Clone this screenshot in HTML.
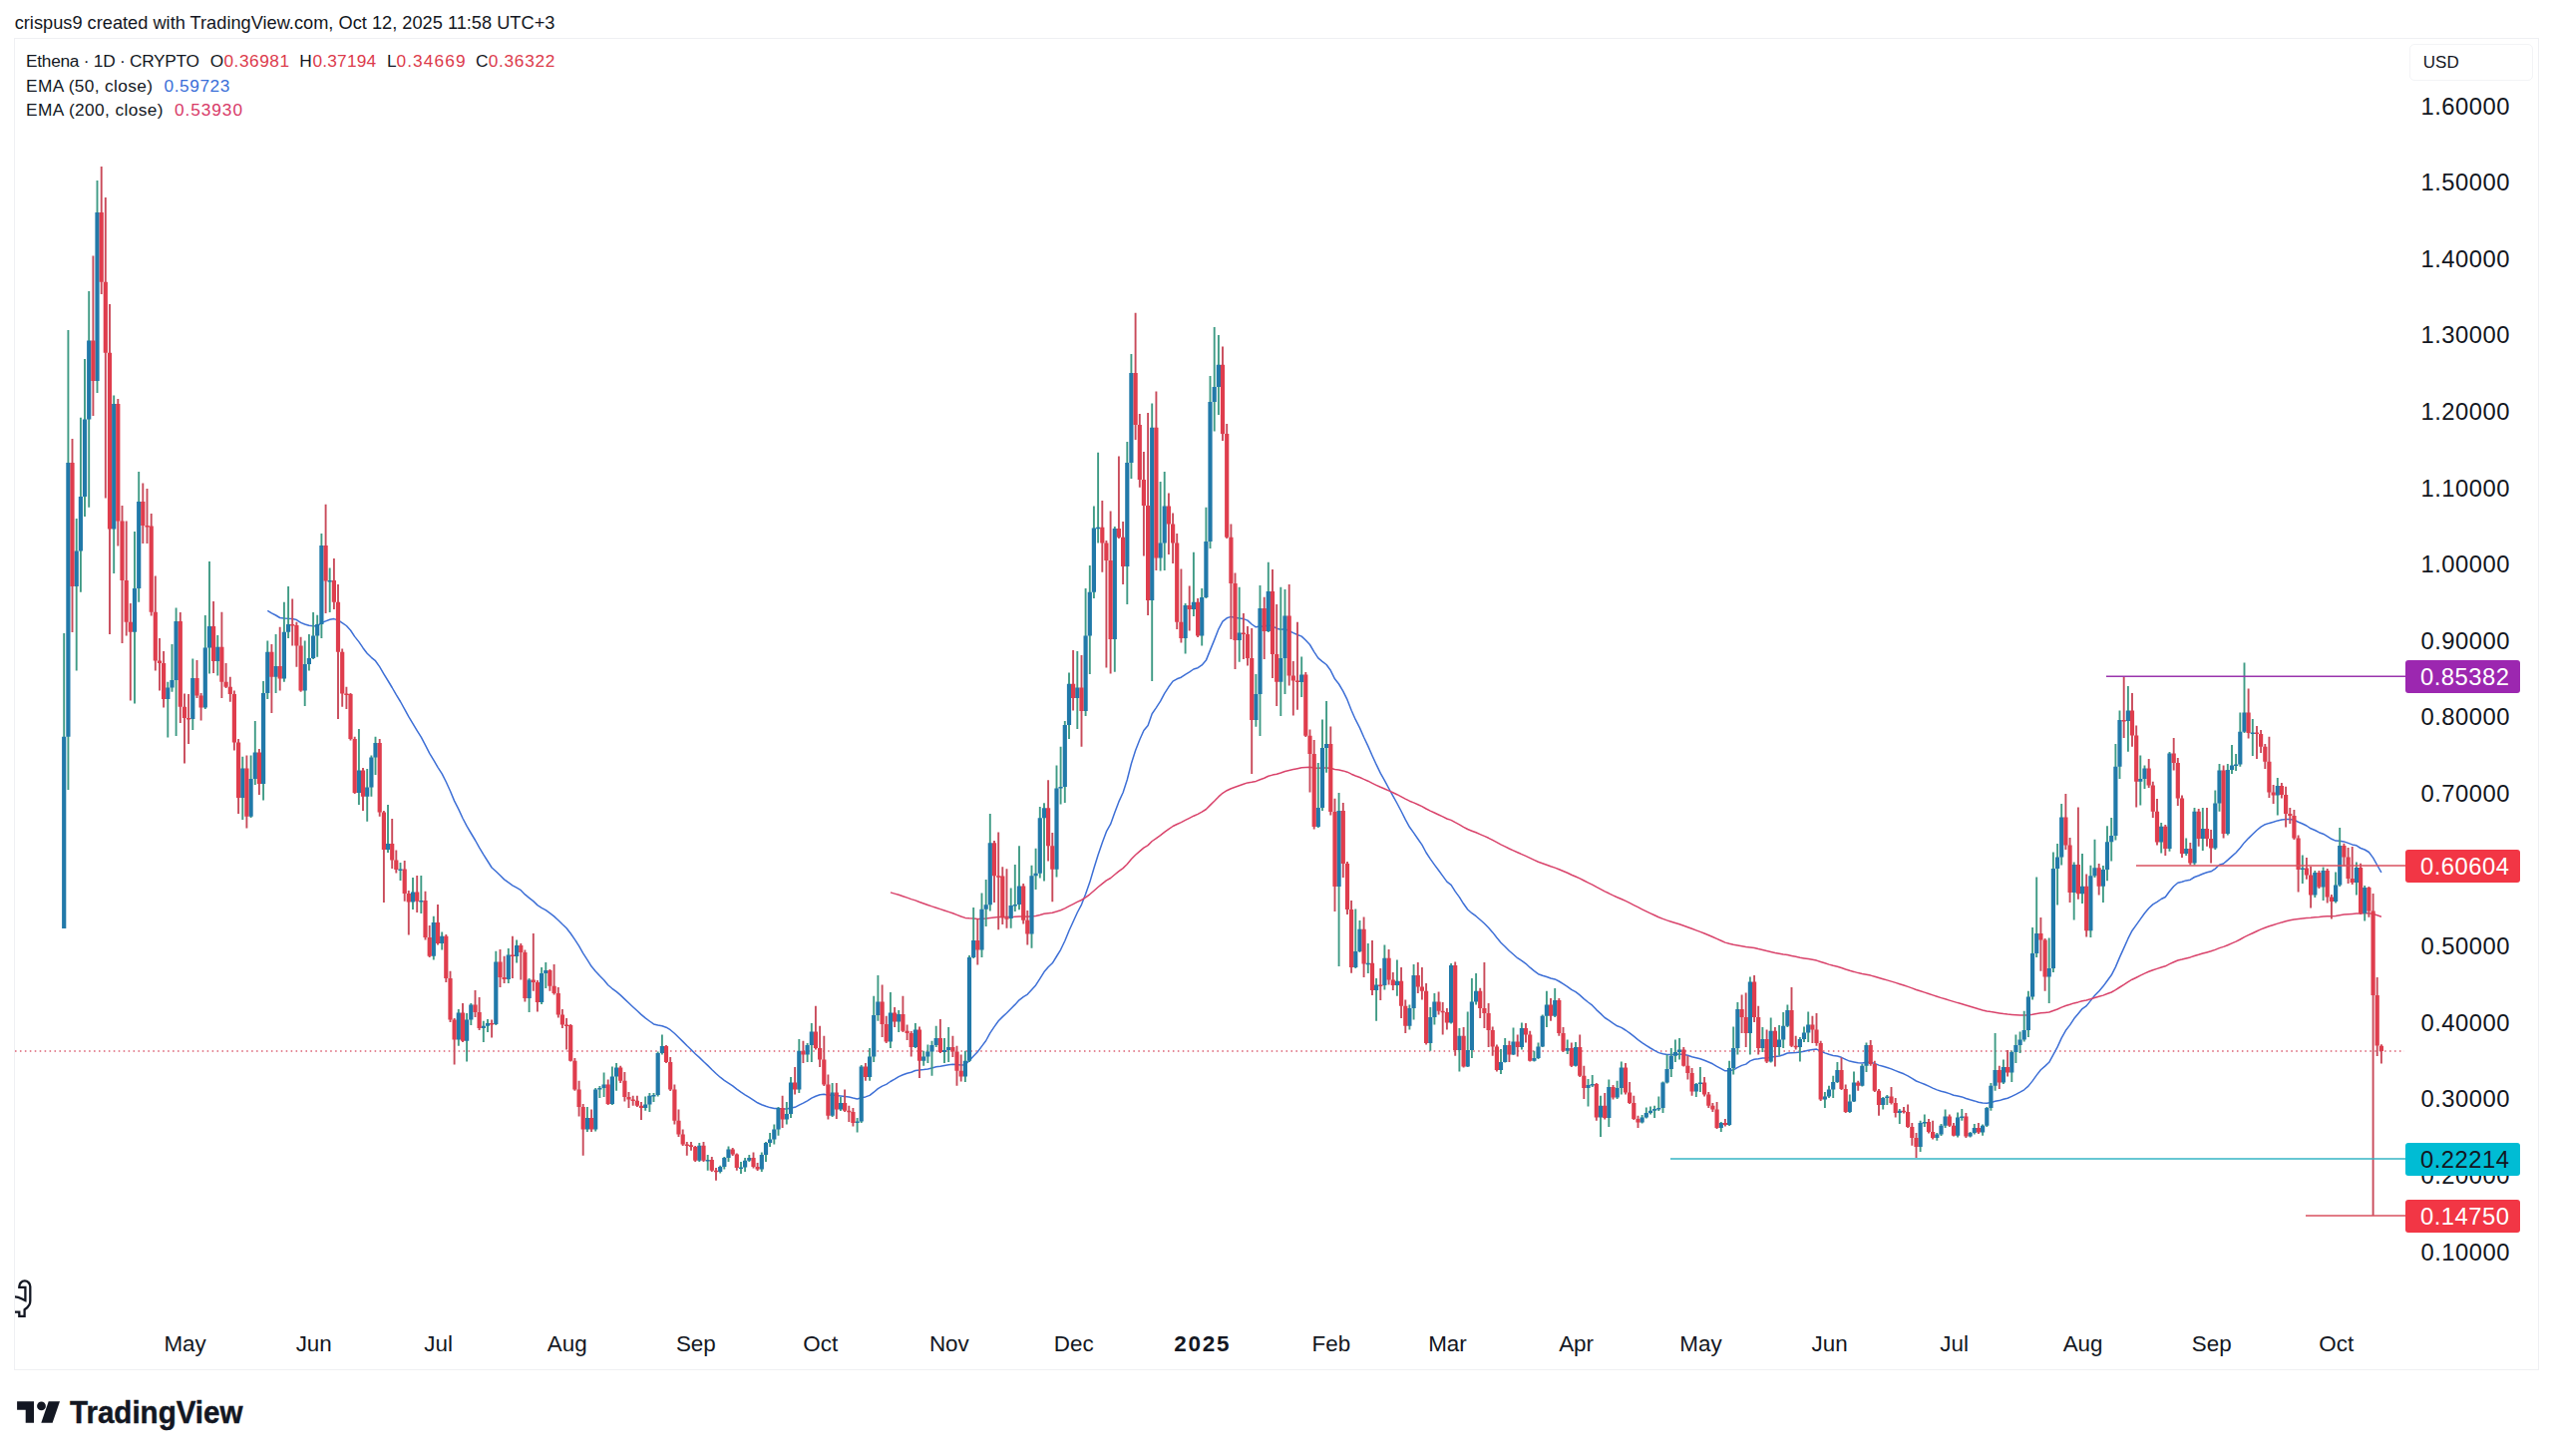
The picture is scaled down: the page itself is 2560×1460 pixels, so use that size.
<!DOCTYPE html>
<html><head><meta charset="utf-8"><title>chart</title>
<style>
html,body{margin:0;padding:0;background:#fff;}
body{width:2560px;height:1460px;position:relative;overflow:hidden;font-family:"Liberation Sans",sans-serif;color:#131722;}
.hdr{position:absolute;left:14.5px;top:11px;font-size:18.2px;line-height:22px;white-space:nowrap;color:#131722;}
.frame{position:absolute;left:14px;top:38px;width:2532px;height:1336px;border:1.5px solid #eff0f3;box-sizing:border-box;}
.lg{position:absolute;left:26px;font-size:17.3px;line-height:20px;white-space:nowrap;color:#131722;}
.lg .r{color:#dc3b4c} .lg .bl{color:#3a6fd8} .lg .pk{color:#d83a68}
.tl{position:absolute;top:1333.7px;width:120px;text-align:center;font-size:22.4px;line-height:28px;color:#131722;}
.tl.b{font-weight:bold;letter-spacing:1.8px}
.pl{position:absolute;left:2427.5px;width:100px;font-size:23.8px;line-height:28px;letter-spacing:0.5px;color:#131722;}
.tag{position:absolute;left:2412px;width:115px;height:33px;border-radius:3px;box-sizing:border-box;padding-left:15px;font-size:23.8px;line-height:33px;letter-spacing:0.5px;color:#fff;}
.usd{position:absolute;left:2415.8px;top:44px;width:124px;height:37px;border:1.5px solid #f3f4f6;border-radius:5px;box-sizing:border-box;font-size:17px;line-height:35px;padding-left:13px;color:#131722;}
svg{position:absolute;left:0;top:0}
</style></head><body>
<div class="frame"></div>
<div class="usd">USD</div>
<div class="pl" style="top:1241.5px">0.10000</div>
<div class="pl" style="top:1164.9px">0.20000</div>
<div class="pl" style="top:1088.3px">0.30000</div>
<div class="pl" style="top:1011.7px">0.40000</div>
<div class="pl" style="top:935.1px">0.50000</div>
<div class="pl" style="top:858.5px">0.60000</div>
<div class="pl" style="top:781.9px">0.70000</div>
<div class="pl" style="top:705.3px">0.80000</div>
<div class="pl" style="top:628.7px">0.90000</div>
<div class="pl" style="top:552.1px">1.00000</div>
<div class="pl" style="top:475.5px">1.10000</div>
<div class="pl" style="top:398.9px">1.20000</div>
<div class="pl" style="top:322.3px">1.30000</div>
<div class="pl" style="top:245.7px">1.40000</div>
<div class="pl" style="top:169.1px">1.50000</div>
<div class="pl" style="top:92.5px">1.60000</div>

<div class="tl" style="left:125.6px">May</div>
<div class="tl" style="left:254.7px">Jun</div>
<div class="tl" style="left:379.6px">Jul</div>
<div class="tl" style="left:508.7px">Aug</div>
<div class="tl" style="left:637.8px">Sep</div>
<div class="tl" style="left:762.7px">Oct</div>
<div class="tl" style="left:891.8px">Nov</div>
<div class="tl" style="left:1016.7px">Dec</div>
<div class="tl b" style="left:1145.8px">2025</div>
<div class="tl" style="left:1274.9px">Feb</div>
<div class="tl" style="left:1391.5px">Mar</div>
<div class="tl" style="left:1520.6px">Apr</div>
<div class="tl" style="left:1645.5px">May</div>
<div class="tl" style="left:1774.6px">Jun</div>
<div class="tl" style="left:1899.6px">Jul</div>
<div class="tl" style="left:2028.6px">Aug</div>
<div class="tl" style="left:2157.7px">Sep</div>
<div class="tl" style="left:2282.7px">Oct</div>

<svg width="2560" height="1460" viewBox="0 0 2560 1460">
<g font-family="Liberation Sans, sans-serif" fill="#131722">
<text x="14.7" y="28.9" font-size="18.2" textLength="541.7" lengthAdjust="spacing">crispus9 created with TradingView.com, Oct 12, 2025 11:58 UTC+3</text>
<g font-size="17.3">
<text x="26" y="67.3" textLength="174" lengthAdjust="spacing">Ethena &#183; 1D &#183; CRYPTO</text>
<text x="210.7" y="67.3">O</text><text x="224.5" y="67.3" fill="#dc3b4c" textLength="65.5" lengthAdjust="spacing">0.36981</text>
<text x="300.3" y="67.3">H</text><text x="313.5" y="67.3" fill="#dc3b4c" textLength="63.6" lengthAdjust="spacing">0.37194</text>
<text x="388" y="67.3">L</text><text x="397.5" y="67.3" fill="#dc3b4c" textLength="69" lengthAdjust="spacing">0.34669</text>
<text x="477" y="67.3">C</text><text x="489.7" y="67.3" fill="#dc3b4c" textLength="66.7" lengthAdjust="spacing">0.36322</text>
<text x="26" y="91.6" textLength="127" lengthAdjust="spacing">EMA (50, close)</text><text x="164.6" y="91.6" fill="#3a6fd8" textLength="65.8" lengthAdjust="spacing">0.59723</text>
<text x="26" y="116.1" textLength="137.6" lengthAdjust="spacing">EMA (200, close)</text><text x="175" y="116.1" fill="#d83a68" textLength="68" lengthAdjust="spacing">0.53930</text>
</g></g>
<line x1="15" y1="1053.9" x2="2411" y2="1053.9" stroke="#dc6174" stroke-width="1.45" stroke-dasharray="1.55 3.39"/>
<polyline points="268.3,612.3 272.4,614.9 276.6,617.0 280.7,619.5 284.9,620.0 289.1,620.3 293.2,620.5 297.4,621.6 301.6,624.4 305.7,626.0 309.9,627.3 314.1,627.7 318.2,627.7 322.4,624.5 326.6,622.9 330.7,621.3 334.9,620.6 339.0,621.9 343.2,624.7 347.4,627.5 351.5,632.0 355.7,638.4 359.9,643.6 364.0,649.7 368.2,655.2 372.4,659.3 376.5,662.7 380.7,668.6 384.9,675.8 389.0,682.5 393.2,689.5 397.3,696.7 401.5,703.5 405.7,711.1 409.8,718.7 414.0,725.6 418.2,732.6 422.3,739.2 426.5,747.1 430.7,755.4 434.8,762.1 439.0,769.3 443.2,775.9 447.3,784.0 451.5,793.3 455.6,803.1 459.8,811.4 464.0,820.5 468.1,828.4 472.3,835.5 476.5,842.5 480.6,849.9 484.8,856.9 489.0,863.5 493.1,870.0 497.3,873.7 501.5,877.8 505.6,881.9 509.8,884.9 513.9,887.8 518.1,890.2 522.3,892.7 526.4,896.9 530.6,900.3 534.8,903.6 538.9,907.6 543.1,910.3 547.3,912.7 551.4,915.7 555.6,918.9 559.8,922.7 563.9,926.8 568.1,930.8 572.2,936.0 576.4,942.2 580.6,948.7 584.7,955.9 588.9,962.4 593.1,969.1 597.2,973.9 601.4,978.5 605.6,982.8 609.7,987.7 613.9,991.3 618.1,994.4 622.2,997.9 626.4,1001.9 630.5,1005.8 634.7,1009.7 638.9,1013.5 643.0,1017.4 647.2,1020.9 651.4,1024.0 655.5,1026.9 659.7,1028.0 663.9,1028.8 668.0,1030.2 672.2,1032.7 676.4,1036.3 680.5,1040.2 684.7,1044.4 688.8,1048.5 693.0,1052.5 697.2,1056.8 701.3,1060.4 705.5,1064.5 709.7,1068.4 713.8,1072.5 718.0,1076.5 722.2,1080.2 726.3,1083.3 730.5,1086.1 734.7,1088.9 738.8,1092.1 743.0,1095.2 747.1,1097.8 751.3,1100.3 755.5,1103.1 759.6,1105.8 763.8,1107.8 768.0,1109.3 772.1,1110.6 776.3,1111.5 780.5,1111.5 784.6,1111.9 788.8,1112.1 793.0,1111.1 797.1,1110.3 801.3,1108.1 805.4,1106.1 809.6,1103.8 813.8,1101.1 817.9,1099.2 822.1,1097.7 826.3,1097.3 830.4,1098.2 834.6,1098.1 838.8,1098.6 842.9,1098.9 847.1,1099.5 851.3,1100.1 855.4,1101.1 859.6,1102.0 863.7,1100.8 867.9,1099.9 872.1,1098.4 876.2,1095.2 880.4,1091.6 884.6,1089.1 888.7,1087.4 892.9,1084.5 897.1,1082.2 901.2,1079.6 905.4,1077.8 909.6,1076.2 913.7,1075.2 917.9,1073.5 922.0,1073.1 926.2,1072.6 930.4,1071.9 934.5,1070.9 938.7,1069.8 942.9,1069.2 947.0,1068.5 951.2,1067.8 955.4,1067.3 959.5,1067.5 963.7,1068.0 967.9,1067.8 972.0,1063.6 976.2,1058.9 980.3,1054.7 984.5,1049.1 988.7,1043.5 992.8,1035.8 997.0,1029.6 1001.2,1023.7 1005.3,1019.6 1009.5,1015.8 1013.7,1011.5 1017.8,1007.4 1022.0,1002.8 1026.2,999.6 1030.3,997.1 1034.5,992.5 1038.6,987.9 1042.8,981.3 1047.0,974.6 1051.1,969.7 1055.3,965.8 1059.5,959.0 1063.6,952.3 1067.8,943.5 1072.0,933.3 1076.1,924.2 1080.3,915.0 1084.5,907.1 1088.6,896.5 1092.8,884.6 1096.9,870.7 1101.1,857.3 1105.3,845.0 1109.4,833.9 1113.6,826.4 1117.8,814.7 1121.9,803.9 1126.1,794.7 1130.3,781.7 1134.4,765.7 1138.6,752.4 1142.8,741.7 1146.9,732.5 1151.1,727.4 1155.2,715.7 1159.4,709.6 1163.6,703.1 1167.7,695.4 1171.9,688.8 1176.1,683.1 1180.2,680.8 1184.4,679.2 1188.6,676.3 1192.7,673.8 1196.9,671.0 1201.1,669.7 1205.2,666.9 1209.4,662.1 1213.5,651.9 1217.7,641.6 1221.9,630.8 1226.0,623.1 1230.2,619.8 1234.4,618.4 1238.5,619.3 1242.7,619.9 1246.9,620.6 1251.0,622.1 1255.2,626.0 1259.4,628.8 1263.5,628.0 1267.7,628.2 1271.8,626.8 1276.0,628.0 1280.2,630.2 1284.3,631.3 1288.5,630.8 1292.7,632.6 1296.8,634.6 1301.0,636.5 1305.2,638.1 1309.3,642.0 1313.5,646.5 1317.7,653.6 1321.8,659.8 1326.0,663.3 1330.1,666.5 1334.3,672.3 1338.5,680.8 1342.6,686.0 1346.8,693.1 1351.0,701.7 1355.1,712.2 1359.3,721.7 1363.5,729.9 1367.6,739.2 1371.8,748.1 1376.0,757.7 1380.1,766.7 1384.3,775.4 1388.4,782.6 1392.6,790.5 1396.8,798.2 1400.9,805.5 1405.1,813.5 1409.3,821.9 1413.4,829.3 1417.6,835.1 1421.8,841.2 1425.9,847.2 1430.1,855.0 1434.3,861.4 1438.4,867.1 1442.6,872.8 1446.7,878.4 1450.9,884.1 1455.1,887.4 1459.2,893.9 1463.4,899.6 1467.6,906.3 1471.7,912.0 1475.9,915.7 1480.1,918.7 1484.2,922.3 1488.4,926.0 1492.6,930.2 1496.7,934.9 1500.9,940.3 1505.0,945.2 1509.2,949.2 1513.4,953.5 1517.5,957.0 1521.7,960.7 1525.9,963.4 1530.0,966.3 1534.2,970.2 1538.4,973.7 1542.5,976.7 1546.7,978.3 1550.9,979.5 1555.0,981.0 1559.2,981.9 1563.3,984.0 1567.5,986.7 1571.7,989.3 1575.8,992.4 1580.0,994.6 1584.2,997.9 1588.3,1001.6 1592.5,1005.0 1596.7,1008.2 1600.8,1012.6 1605.0,1016.4 1609.2,1020.5 1613.3,1023.2 1617.5,1026.2 1621.6,1028.8 1625.8,1030.4 1630.0,1033.0 1634.1,1035.8 1638.3,1039.2 1642.5,1042.6 1646.6,1045.6 1650.8,1048.4 1655.0,1051.0 1659.1,1053.4 1663.3,1055.6 1667.5,1056.8 1671.6,1057.4 1675.8,1057.4 1679.9,1057.3 1684.1,1057.1 1688.3,1057.6 1692.4,1058.3 1696.6,1059.7 1700.8,1060.8 1704.9,1061.8 1709.1,1063.2 1713.3,1065.0 1717.4,1066.8 1721.6,1069.3 1725.8,1071.6 1729.9,1073.8 1734.1,1073.7 1738.2,1072.8 1742.4,1070.4 1746.6,1068.4 1750.7,1067.1 1754.9,1063.9 1759.1,1062.2 1763.2,1061.7 1767.4,1061.0 1771.6,1061.1 1775.7,1060.0 1779.9,1059.6 1784.1,1059.0 1788.2,1057.8 1792.4,1056.0 1796.5,1055.7 1800.7,1055.5 1804.9,1055.0 1809.0,1054.2 1813.2,1053.2 1817.4,1052.4 1821.5,1052.1 1825.7,1054.1 1829.9,1055.9 1834.0,1057.3 1838.2,1058.4 1842.4,1059.0 1846.5,1060.3 1850.7,1062.4 1854.8,1064.1 1859.0,1064.9 1863.2,1065.8 1867.3,1065.9 1871.5,1065.2 1875.7,1065.3 1879.8,1066.4 1884.0,1068.1 1888.2,1069.3 1892.3,1070.5 1896.5,1071.9 1900.7,1073.6 1904.8,1075.2 1909.0,1076.8 1913.1,1078.9 1917.3,1081.3 1921.5,1084.0 1925.6,1085.6 1929.8,1087.2 1934.0,1089.1 1938.1,1091.1 1942.3,1092.9 1946.5,1094.3 1950.6,1095.3 1954.8,1096.6 1959.0,1098.3 1963.1,1099.1 1967.3,1099.9 1971.4,1101.5 1975.6,1102.8 1979.8,1103.9 1983.9,1105.2 1988.1,1106.1 1992.3,1106.3 1996.4,1105.6 2000.6,1104.3 2004.8,1103.6 2008.9,1102.3 2013.1,1101.2 2017.3,1099.4 2021.4,1097.4 2025.6,1095.2 2029.7,1092.8 2033.9,1089.1 2038.1,1083.9 2042.2,1078.1 2046.4,1072.8 2050.6,1069.1 2054.7,1065.3 2058.9,1057.7 2063.1,1049.9 2067.2,1040.9 2071.4,1033.3 2075.6,1027.9 2079.7,1021.6 2083.9,1016.6 2088.0,1011.6 2092.2,1008.6 2096.4,1003.4 2100.5,998.2 2104.7,993.9 2108.9,989.1 2113.0,983.5 2117.2,977.8 2121.4,969.6 2125.5,959.9 2129.7,950.6 2133.9,941.2 2138.0,933.2 2142.2,927.4 2146.3,921.6 2150.5,915.7 2154.7,910.7 2158.8,906.9 2163.0,904.4 2167.2,901.5 2171.3,899.5 2175.5,893.8 2179.7,888.8 2183.8,885.3 2188.0,884.2 2192.2,882.9 2196.3,882.2 2200.5,879.5 2204.7,878.0 2208.8,876.2 2213.0,874.8 2217.1,873.8 2221.3,871.1 2225.5,867.3 2229.6,866.0 2233.8,862.4 2238.0,858.6 2242.1,855.0 2246.3,850.3 2250.5,844.9 2254.6,840.6 2258.8,836.5 2263.0,832.5 2267.1,829.2 2271.3,826.7 2275.4,825.4 2279.6,824.3 2283.8,822.9 2287.9,821.9 2292.1,821.6 2296.3,821.5 2300.4,822.2 2304.6,824.2 2308.8,826.0 2312.9,828.0 2317.1,830.8 2321.3,832.5 2325.4,834.7 2329.6,836.2 2333.7,838.7 2337.9,841.3 2342.1,843.1 2346.2,843.3 2350.4,843.9 2354.6,845.4 2358.7,846.9 2362.9,847.8 2367.1,850.5 2371.2,852.0 2375.4,854.5 2379.6,860.1 2383.7,867.5 2387.9,874.8" stroke="#3d6fd6" stroke-width="1.5" fill="none" stroke-linejoin="round"/>
<polyline points="892.9,894.9 897.1,896.1 901.2,897.3 905.4,898.7 909.6,900.1 913.7,901.6 917.9,902.9 922.0,904.5 926.2,906.0 930.4,907.5 934.5,908.9 938.7,910.2 942.9,911.6 947.0,913.0 951.2,914.4 955.4,915.8 959.5,917.4 963.7,919.0 967.9,920.4 972.0,920.8 976.2,921.0 980.3,921.4 984.5,921.3 988.7,921.1 992.8,920.4 997.0,919.9 1001.2,919.5 1005.3,919.5 1009.5,919.6 1013.7,919.4 1017.8,919.3 1022.0,919.0 1026.2,919.0 1030.3,919.2 1034.5,918.8 1038.6,918.4 1042.8,917.4 1047.0,916.3 1051.1,915.7 1055.3,915.2 1059.5,914.0 1063.6,912.7 1067.8,910.9 1072.0,908.7 1076.1,906.6 1080.3,904.4 1084.5,902.5 1088.6,899.9 1092.8,896.8 1096.9,893.2 1101.1,889.5 1105.3,886.1 1109.4,882.9 1113.6,880.5 1117.8,877.0 1121.9,873.6 1126.1,870.6 1130.3,866.5 1134.4,861.6 1138.6,857.3 1142.8,853.6 1146.9,850.1 1151.1,847.6 1155.2,843.5 1159.4,840.7 1163.6,837.7 1167.7,834.4 1171.9,831.3 1176.1,828.5 1180.2,826.5 1184.4,824.6 1188.6,822.4 1192.7,820.3 1196.9,818.2 1201.1,816.4 1205.2,814.2 1209.4,811.5 1213.5,807.4 1217.7,803.3 1221.9,798.9 1226.0,795.3 1230.2,792.7 1234.4,790.7 1238.5,789.2 1242.7,787.7 1246.9,786.2 1251.0,784.9 1255.2,784.3 1259.4,783.4 1263.5,781.7 1267.7,780.2 1271.8,778.3 1276.0,777.1 1280.2,776.2 1284.3,775.0 1288.5,773.5 1292.7,772.5 1296.8,771.6 1301.0,770.7 1305.2,769.8 1309.3,769.5 1313.5,769.3 1317.7,769.9 1321.8,770.3 1326.0,770.1 1330.1,769.9 1334.3,770.3 1338.5,771.5 1342.6,771.9 1346.8,772.9 1351.0,774.2 1355.1,776.2 1359.3,778.0 1363.5,779.5 1367.6,781.4 1371.8,783.2 1376.0,785.3 1380.1,787.3 1384.3,789.3 1388.4,791.0 1392.6,792.9 1396.8,794.8 1400.9,796.7 1405.1,798.8 1409.3,801.1 1413.4,803.2 1417.6,804.9 1421.8,806.8 1425.9,808.6 1430.1,811.0 1434.3,813.1 1438.4,815.0 1442.6,817.0 1446.7,818.9 1450.9,821.0 1455.1,822.4 1459.2,824.7 1463.4,826.9 1467.6,829.3 1471.7,831.5 1475.9,833.2 1480.1,834.8 1484.2,836.6 1488.4,838.4 1492.6,840.3 1496.7,842.4 1500.9,844.7 1505.0,846.9 1509.2,848.9 1513.4,851.0 1517.5,852.9 1521.7,854.8 1525.9,856.6 1530.0,858.4 1534.2,860.4 1538.4,862.4 1542.5,864.3 1546.7,865.8 1550.9,867.2 1555.0,868.7 1559.2,870.1 1563.3,871.7 1567.5,873.5 1571.7,875.3 1575.8,877.2 1580.0,879.0 1584.2,880.9 1588.3,883.0 1592.5,885.1 1596.7,887.1 1600.8,889.4 1605.0,891.6 1609.2,893.9 1613.3,895.8 1617.5,897.9 1621.6,899.8 1625.8,901.5 1630.0,903.4 1634.1,905.4 1638.3,907.6 1642.5,909.7 1646.6,911.8 1650.8,913.9 1655.0,915.9 1659.1,917.8 1663.3,919.7 1667.5,921.4 1671.6,922.9 1675.8,924.2 1679.9,925.5 1684.1,926.8 1688.3,928.2 1692.4,929.7 1696.6,931.3 1700.8,932.9 1704.9,934.4 1709.1,936.0 1713.3,937.7 1717.4,939.5 1721.6,941.4 1725.8,943.2 1729.9,945.1 1734.1,946.3 1738.2,947.3 1742.4,948.0 1746.6,948.7 1750.7,949.6 1754.9,949.9 1759.1,950.6 1763.2,951.6 1767.4,952.5 1771.6,953.6 1775.7,954.4 1779.9,955.4 1784.1,956.2 1788.2,957.0 1792.4,957.5 1796.5,958.4 1800.7,959.3 1804.9,960.2 1809.0,960.9 1813.2,961.6 1817.4,962.3 1821.5,963.1 1825.7,964.5 1829.9,965.8 1834.0,967.1 1838.2,968.3 1842.4,969.3 1846.5,970.5 1850.7,972.0 1854.8,973.3 1859.0,974.4 1863.2,975.6 1867.3,976.5 1871.5,977.2 1875.7,978.1 1879.8,979.2 1884.0,980.5 1888.2,981.7 1892.3,982.9 1896.5,984.1 1900.7,985.4 1904.8,986.7 1909.0,988.0 1913.1,989.4 1917.3,990.9 1921.5,992.5 1925.6,993.8 1929.8,995.1 1934.0,996.5 1938.1,997.9 1942.3,999.3 1946.5,1000.6 1950.6,1001.8 1954.8,1003.1 1959.0,1004.4 1963.1,1005.6 1967.3,1006.7 1971.4,1008.0 1975.6,1009.3 1979.8,1010.5 1983.9,1011.8 1988.1,1012.9 1992.3,1013.9 1996.4,1014.6 2000.6,1015.2 2004.8,1015.9 2008.9,1016.5 2013.1,1017.0 2017.3,1017.4 2021.4,1017.7 2025.6,1018.0 2029.7,1018.1 2033.9,1017.9 2038.1,1017.3 2042.2,1016.5 2046.4,1015.8 2050.6,1015.4 2054.7,1015.0 2058.9,1013.5 2063.1,1012.0 2067.2,1010.1 2071.4,1008.5 2075.6,1007.3 2079.7,1005.9 2083.9,1004.9 2088.0,1003.7 2092.2,1003.0 2096.4,1001.8 2100.5,1000.5 2104.7,999.3 2108.9,998.1 2113.0,996.5 2117.2,995.0 2121.4,992.7 2125.5,990.0 2129.7,987.4 2133.9,984.6 2138.0,982.2 2142.2,980.2 2146.3,978.2 2150.5,976.1 2154.7,974.3 2158.8,972.7 2163.0,971.4 2167.2,970.0 2171.3,968.8 2175.5,966.7 2179.7,964.7 2183.8,963.0 2188.0,962.0 2192.2,960.9 2196.3,959.9 2200.5,958.5 2204.7,957.3 2208.8,956.0 2213.0,954.9 2217.1,953.8 2221.3,952.4 2225.5,950.6 2229.6,949.4 2233.8,947.7 2238.0,945.9 2242.1,944.1 2246.3,942.0 2250.5,939.7 2254.6,937.7 2258.8,935.7 2263.0,933.7 2267.1,931.9 2271.3,930.2 2275.4,928.8 2279.6,927.5 2283.8,926.1 2287.9,924.9 2292.1,923.8 2296.3,922.7 2300.4,921.9 2304.6,921.4 2308.8,920.9 2312.9,920.5 2317.1,920.2 2321.3,919.8 2325.4,919.5 2329.6,919.0 2333.7,918.8 2337.9,918.7 2342.1,918.4 2346.2,917.7 2350.4,917.1 2354.6,916.7 2358.7,916.4 2362.9,916.0 2367.1,916.0 2371.2,915.7 2375.4,915.7 2379.6,916.5 2383.7,917.8 2387.9,919.2" stroke="#d9436b" stroke-width="1.5" fill="none" stroke-linejoin="round"/>

<path d="M64.2 635.0V931.0M68.4 331.0V792.0M76.7 520.0V672.5M80.9 418.7V593.7M85.0 360.0V518.0M89.2 292.0V508.7M97.5 181.0V394.0M114.2 396.4V575.0M135.0 533.0V705.5M139.2 473.0V603.7M168.3 683.7V739.5M172.5 646.0V693.7M176.6 609.5V738.0M193.3 660.5V732.0M205.8 617.0V711.0M210.0 563.0V675.5M218.3 637.0V677.5M243.3 758.7V822.0M251.6 757.5V820.0M255.8 723.0V787.0M264.1 683.0V802.5M268.3 642.5V701.0M276.6 636.0V695.0M284.9 603.7V683.7M289.1 588.0V640.0M305.7 642.5V708.0M309.9 636.0V672.5M314.1 614.0V661.0M318.2 616.7V658.7M322.4 535.0V640.0M330.7 569.5V614.0M359.9 731.0V807.0M368.2 771.0V823.7M372.4 757.5V798.7M376.5 738.7V777.0M389.0 807.0V855.0M401.5 865.0V883.0M414.0 880.0V912.0M422.3 878.0V916.0M434.8 918.7V962.5M443.2 934.5V952.5M459.8 1012.0V1048.7M468.1 1016.0V1064.5M472.3 1006.0V1028.0M484.8 1023.7V1045.0M489.0 1022.0V1035.0M497.3 953.7V1028.0M509.8 951.0V986.0M518.1 942.5V965.5M530.6 981.0V1015.0M543.1 970.0V1007.0M547.3 965.0V991.0M588.9 1110.0V1135.0M597.2 1091.0V1134.5M601.4 1089.0V1101.0M605.6 1075.5V1100.0M613.9 1069.5V1108.0M618.1 1066.0V1093.7M647.2 1099.5V1113.7M651.4 1096.0V1115.0M655.5 1096.0V1105.0M659.7 1054.5V1099.5M663.9 1037.5V1057.5M701.3 1146.0V1165.0M709.7 1158.0V1173.7M722.2 1168.7V1176.5M726.3 1160.0V1172.5M730.5 1149.5V1165.0M743.0 1165.0V1177.0M747.1 1161.0V1175.0M751.3 1158.0V1165.0M763.8 1155.5V1175.0M768.0 1145.0V1165.0M772.1 1136.0V1150.0M776.3 1127.5V1147.5M780.5 1110.0V1138.7M788.8 1105.0V1127.5M793.0 1080.0V1121.0M801.3 1042.0V1096.0M809.6 1046.0V1065.0M813.8 1026.0V1065.0M834.6 1086.0V1120.0M842.9 1100.0V1114.0M859.6 1121.0V1135.5M863.7 1068.0V1126.0M872.1 1051.0V1083.7M876.2 998.7V1065.0M880.4 978.0V1023.7M892.9 995.0V1051.0M901.2 1013.0V1035.0M917.9 1026.0V1051.0M926.2 1053.7V1068.7M930.4 1047.5V1066.0M934.5 1043.7V1078.7M938.7 1028.7V1050.0M947.0 1041.0V1066.0M951.2 1030.0V1065.0M967.9 1053.7V1085.0M972.0 958.0V1065.0M976.2 910.0V961.0M984.5 895.6V960.0M988.7 882.0V929.0M992.8 816.0V913.5M1013.7 890.6V930.8M1017.8 867.0V914.0M1022.0 848.2V912.3M1034.5 867.8V950.8M1038.6 850.7V891.9M1042.8 809.0V880.4M1047.0 805.3V883.6M1059.5 767.5V879.5M1063.6 748.7V806.6M1067.8 723.0V805.0M1072.0 674.5V741.0M1080.3 653.0V731.0M1088.6 590.0V718.0M1092.8 567.0V676.0M1096.9 507.5V600.0M1101.1 453.7V544.5M1117.8 528.0V673.7M1130.3 443.0V606.0M1134.4 355.0V480.0M1155.2 404.5V683.0M1163.6 483.0V572.5M1167.7 473.0V572.0M1188.6 605.0V655.5M1196.9 553.7V618.0M1205.2 590.0V647.5M1209.4 508.7V600.0M1213.5 377.0V550.0M1217.7 328.0V432.5M1221.9 336.0V416.0M1242.7 588.7V663.7M1259.4 676.0V728.7M1263.5 587.0V738.0M1271.8 563.7V634.0M1284.3 588.7V718.0M1288.5 591.0V696.0M1305.2 658.5V699.0M1321.8 765.0V830.0M1326.0 721.6V813.0M1330.1 703.0V774.8M1342.6 795.0V969.0M1359.3 911.5V971.0M1363.5 923.0V955.0M1371.8 946.0V976.0M1380.1 981.0V1023.7M1388.4 947.5V992.5M1400.9 962.5V998.7M1413.4 1007.5V1032.5M1417.6 967.0V1022.5M1434.3 1010.0V1053.7M1438.4 996.0V1027.5M1455.1 966.0V1026.5M1463.4 1031.0V1074.5M1471.7 1014.5V1070.0M1475.9 981.0V1061.0M1480.1 976.0V1007.5M1505.0 1052.0V1077.0M1509.2 1041.0V1065.5M1517.5 1030.5V1058.0M1525.9 1025.5V1052.5M1538.4 1053.7V1064.5M1542.5 1045.5V1062.0M1546.7 1017.5V1050.0M1550.9 993.7V1030.0M1559.2 991.0V1020.0M1571.7 1042.5V1057.0M1580.0 1045.0V1069.5M1592.5 1082.0V1109.5M1596.7 1078.0V1090.0M1605.0 1098.7V1140.0M1613.3 1082.5V1130.0M1621.6 1083.7V1102.0M1625.8 1064.5V1097.5M1646.6 1118.0V1126.5M1650.8 1110.5V1121.5M1655.0 1109.5V1117.5M1659.1 1108.7V1121.0M1663.3 1099.5V1114.0M1667.5 1084.5V1116.0M1671.6 1057.5V1086.5M1675.8 1051.0V1080.0M1679.9 1042.5V1065.0M1684.1 1041.0V1062.5M1700.8 1086.0V1100.0M1704.9 1070.0V1095.0M1725.8 1125.0V1135.0M1734.1 1063.7V1129.0M1738.2 1029.5V1077.5M1742.4 1005.0V1057.5M1754.9 979.5V1057.5M1767.4 1030.0V1055.0M1775.7 1020.5V1065.5M1784.1 1028.0V1058.7M1788.2 1015.0V1051.0M1792.4 1007.5V1030.0M1804.9 1040.0V1064.5M1809.0 1029.5V1045.0M1813.2 1014.5V1045.0M1829.9 1095.0V1111.0M1834.0 1088.7V1101.0M1838.2 1078.7V1101.0M1842.4 1065.0V1086.0M1854.8 1097.5V1116.0M1859.0 1074.5V1105.0M1867.3 1067.0V1089.5M1871.5 1045.5V1075.0M1888.2 1100.0V1112.5M1892.3 1098.0V1108.0M1904.8 1112.0V1127.0M1925.6 1123.7V1155.0M1929.8 1117.5V1130.0M1942.3 1136.0V1143.7M1946.5 1127.0V1139.0M1950.6 1112.5V1131.0M1963.1 1115.5V1140.5M1967.3 1112.0V1123.7M1975.6 1135.0V1140.5M1979.8 1127.0V1137.5M1988.1 1127.5V1138.7M1992.3 1110.0V1130.0M1996.4 1086.0V1113.7M2000.6 1036.0V1093.7M2008.9 1062.5V1087.0M2017.3 1053.5V1085.0M2021.4 1037.5V1066.0M2025.6 1034.5V1056.0M2029.7 1013.7V1044.5M2033.9 993.7V1040.0M2038.1 930.0V1002.5M2042.2 879.5V960.0M2054.7 940.5V1006.0M2058.9 854.5V975.0M2063.1 846.0V907.5M2067.2 806.0V867.5M2079.7 864.5V922.5M2088.0 856.0V906.0M2096.4 867.8V940.0M2100.5 841.8V880.0M2108.9 868.0V905.0M2113.0 828.2V883.2M2117.2 820.0V863.4M2121.4 746.0V842.5M2125.5 712.5V781.0M2133.9 688.0V753.7M2146.3 757.5V807.5M2150.5 767.5V791.0M2167.2 825.0V855.5M2175.5 754.0V853.7M2192.2 840.5V858.0M2200.5 810.0V867.5M2208.8 810.0V853.0M2221.3 792.5V852.0M2225.5 766.0V813.7M2233.8 766.0V837.5M2238.0 747.0V776.0M2242.1 756.0V773.0M2246.3 714.5V768.7M2250.5 664.5V735.0M2258.8 721.0V758.0M2283.8 780.0V817.5M2308.8 857.5V886.0M2321.3 873.0V900.0M2329.6 869.5V903.0M2342.1 874.5V905.5M2346.2 830.0V889.0M2362.9 864.6V897.6M2371.2 888.0V923.5" stroke="#3f9b85" stroke-width="1.9" fill="none"/>
<path d="M72.5 440.0V634.0M93.4 256.6V417.0M101.7 167.0V295.0M105.8 198.0V499.5M110.0 305.0V636.0M118.3 400.0V547.5M122.5 507.0V645.0M126.7 522.5V637.5M130.8 605.0V702.5M143.3 484.5V545.0M147.5 490.0V545.0M151.7 515.0V617.5M155.8 577.5V672.5M160.0 640.0V692.5M164.1 653.0V709.5M180.8 614.0V725.0M185.0 695.5V765.5M189.1 696.0V746.0M197.5 662.0V700.0M201.6 695.0V722.5M214.1 603.0V675.0M222.4 613.7V700.0M226.6 665.0V690.0M230.8 678.7V703.7M234.9 692.5V752.5M239.1 741.0V816.0M247.4 757.5V830.5M259.9 751.0V797.0M272.4 646.0V715.0M280.7 628.7V692.5M293.2 600.5V647.5M297.4 623.7V668.7M301.6 638.7V693.7M326.6 505.7V615.0M334.9 560.0V611.0M339.0 586.0V721.0M343.2 650.5V708.7M347.4 688.7V711.0M351.5 695.0V742.5M355.7 738.7V796.0M364.0 770.0V813.0M380.7 741.0V818.7M384.9 813.0V905.0M393.2 821.0V871.0M397.3 852.5V875.5M405.7 863.0V903.7M409.8 893.0V937.5M418.2 878.0V915.0M426.5 893.7V942.5M430.7 928.0V960.0M439.0 907.0V947.5M447.3 937.0V985.0M451.5 973.7V1025.0M455.6 1021.0V1067.5M464.0 1006.0V1045.0M476.5 993.0V1020.0M480.6 1000.0V1033.0M493.1 1022.5V1040.5M501.5 952.0V990.0M505.6 958.7V986.0M513.9 938.7V981.0M522.3 946.0V982.5M526.4 952.5V1004.5M534.8 936.0V993.7M538.9 983.0V1014.5M551.4 972.0V993.7M555.6 967.0V997.5M559.8 990.0V1020.5M563.9 1012.0V1031.0M568.1 1021.0V1052.5M572.2 1027.0V1064.5M576.4 1061.0V1093.7M580.6 1083.7V1119.5M584.7 1107.0V1158.7M593.1 1112.5V1135.0M609.7 1082.5V1108.0M622.2 1068.7V1086.0M626.4 1075.0V1104.5M630.5 1095.0V1111.0M634.7 1098.7V1108.7M638.9 1098.7V1110.0M643.0 1105.0V1123.0M668.0 1048.0V1066.0M672.2 1060.0V1094.0M676.4 1087.5V1127.5M680.5 1112.5V1140.0M684.7 1132.5V1149.0M688.8 1145.0V1158.7M693.0 1145.0V1153.7M697.2 1149.0V1165.0M705.5 1145.0V1165.0M713.8 1160.0V1175.0M718.0 1171.0V1183.7M734.7 1151.0V1159.0M738.8 1156.5V1173.7M755.5 1155.5V1171.5M759.6 1166.0V1174.0M784.6 1098.7V1131.0M797.1 1070.0V1097.5M805.4 1043.7V1066.0M817.9 1008.7V1052.5M822.1 1028.7V1070.0M826.3 1038.7V1089.0M830.4 1077.5V1122.5M838.8 1086.0V1122.0M847.1 1092.5V1115.0M851.3 1108.7V1125.0M855.4 1111.0V1129.5M867.9 1066.0V1083.7M884.6 987.5V1040.0M888.7 1018.7V1046.0M897.1 1010.0V1030.0M905.4 998.7V1035.0M909.6 1027.5V1043.0M913.7 1034.0V1059.5M922.0 1029.5V1081.0M942.9 1022.0V1056.0M955.4 1038.7V1060.0M959.5 1048.7V1088.7M963.7 1057.5V1084.5M980.3 921.0V967.5M997.0 843.0V904.9M1001.2 834.4V932.3M1005.3 869.3V927.0M1009.5 871.2V930.8M1026.2 886.0V926.5M1030.3 913.0V947.5M1051.1 782.2V863.4M1055.3 835.0V904.2M1076.1 652.0V712.5M1084.5 657.0V748.7M1105.3 502.0V573.7M1109.4 542.0V669.5M1113.6 512.5V675.5M1121.9 457.5V540.0M1126.1 523.0V586.0M1138.6 313.7V441.0M1142.8 415.0V488.7M1146.9 453.0V557.5M1151.1 414.0V617.0M1159.4 392.5V572.0M1171.9 494.5V556.0M1176.1 514.5V565.0M1180.2 535.0V631.0M1184.4 570.5V644.5M1192.7 587.5V632.5M1201.1 600.0V639.0M1226.0 347.5V442.0M1230.2 425.0V540.0M1234.4 525.5V641.0M1238.5 574.5V671.0M1246.9 615.0V661.0M1251.0 628.0V667.5M1255.2 630.0V776.0M1267.7 598.7V661.0M1276.0 571.0V680.0M1280.2 606.0V708.0M1292.7 586.0V687.5M1296.8 663.0V717.5M1301.0 623.7V711.7M1309.3 674.0V739.0M1313.5 731.5V794.5M1317.7 742.0V831.6M1334.3 728.5V817.5M1338.5 800.7V914.0M1346.8 805.0V880.0M1351.0 864.0V917.0M1355.1 903.0V975.8M1367.6 919.4V980.0M1376.0 943.0V998.0M1384.3 971.0V1003.0M1392.6 952.0V987.5M1396.8 975.0V993.0M1405.1 970.0V1021.0M1409.3 1002.5V1036.0M1421.8 965.0V996.0M1425.9 970.0V1002.5M1430.1 986.0V1047.5M1442.6 994.5V1017.5M1446.7 1005.0V1037.5M1450.9 1011.0V1032.5M1459.2 964.5V1058.7M1467.6 1030.0V1070.5M1484.2 990.7V1021.0M1488.4 965.0V1031.0M1492.6 1006.0V1050.0M1496.7 1029.5V1058.7M1500.9 1047.5V1074.5M1513.4 1043.7V1065.0M1521.7 1037.5V1059.5M1530.0 1026.0V1045.5M1534.2 1033.7V1064.5M1555.0 1001.0V1023.7M1563.3 1001.0V1038.7M1567.5 1030.0V1055.0M1575.8 1045.5V1070.0M1584.2 1037.5V1080.0M1588.3 1068.7V1102.0M1600.8 1086.0V1123.7M1609.2 1096.0V1122.5M1617.5 1088.0V1102.5M1630.0 1066.0V1097.5M1634.1 1085.0V1107.0M1638.3 1098.7V1123.0M1642.5 1118.7V1131.0M1688.3 1050.0V1069.5M1692.4 1058.7V1082.5M1696.6 1071.0V1098.7M1709.1 1080.0V1099.5M1713.3 1095.0V1111.0M1717.4 1106.0V1115.0M1721.6 1105.0V1132.0M1729.9 1122.0V1129.5M1746.6 997.5V1036.0M1750.7 995.5V1050.0M1759.1 978.0V1025.0M1763.2 1008.7V1057.5M1771.6 1032.5V1066.0M1779.9 1030.0V1069.5M1796.5 990.0V1050.0M1800.7 1038.7V1052.5M1817.4 1018.7V1046.0M1821.5 1016.0V1048.7M1825.7 1043.7V1104.0M1846.5 1060.5V1093.0M1850.7 1087.5V1116.0M1863.2 1083.7V1093.7M1875.7 1043.0V1068.7M1879.8 1063.7V1095.0M1884.0 1092.0V1118.7M1896.5 1090.0V1107.5M1900.7 1101.0V1120.5M1909.0 1110.0V1116.5M1913.1 1107.5V1131.0M1917.3 1126.0V1148.7M1921.5 1136.0V1161.0M1934.0 1122.0V1136.5M1938.1 1123.7V1142.5M1954.8 1117.5V1130.0M1959.0 1126.0V1139.5M1971.4 1116.0V1141.0M1983.9 1126.0V1137.0M2004.8 1068.7V1092.0M2013.1 1053.0V1079.5M2046.4 920.0V973.7M2050.6 941.0V993.7M2071.4 796.0V852.0M2075.6 840.0V905.0M2083.9 809.4V901.8M2092.2 876.4V939.5M2104.7 866.0V897.4M2129.7 678.0V740.0M2138.0 695.0V748.7M2142.2 727.5V809.5M2154.7 761.0V790.0M2158.8 783.7V820.0M2163.0 801.0V847.5M2171.3 827.0V858.0M2179.7 740.0V772.5M2183.8 760.0V808.0M2188.0 797.5V860.0M2196.3 845.0V867.5M2204.7 811.0V848.7M2213.0 810.0V848.7M2217.1 832.0V865.5M2229.6 767.5V840.5M2254.6 690.5V740.5M2263.0 728.0V761.0M2267.1 732.0V755.0M2271.3 746.0V771.0M2275.4 738.7V800.0M2279.6 787.0V806.0M2287.9 785.0V800.5M2292.1 788.7V829.5M2296.3 810.0V826.0M2300.4 812.0V842.0M2304.6 837.5V894.5M2312.9 860.0V881.7M2317.1 869.0V910.5M2325.4 873.0V891.0M2333.7 871.0V905.5M2337.9 897.0V921.5M2350.4 845.8V868.7M2354.6 850.0V886.0M2358.7 849.0V887.0M2367.1 865.8V917.0M2375.4 889.0V919.8M2379.6 896.0V1219.0M2383.7 980.0V1059.0M2387.9 1047.2V1066.5" stroke="#c94a5a" stroke-width="1.9" fill="none"/>
<path d="M64.2 738.8V931.0M68.4 464.0V738.8M76.7 552.5V588.0M80.9 498.0V552.5M85.0 420.6V498.0M89.2 341.5V420.6M97.5 213.0V382.0M114.2 405.0V530.5M135.0 590.0V633.7M139.2 503.0V590.0M168.3 689.5V701.0M172.5 682.0V689.5M176.6 623.0V682.0M193.3 680.0V721.0M205.8 649.5V709.5M210.0 628.0V649.5M218.3 648.7V663.0M243.3 770.5V800.0M251.6 781.0V818.7M255.8 754.5V781.0M264.1 695.0V786.0M268.3 653.7V695.0M276.6 668.0V678.7M284.9 633.7V680.5M289.1 626.0V633.7M305.7 666.0V692.5M309.9 660.0V666.0M314.1 637.5V660.0M318.2 626.0V637.5M322.4 547.0V626.0M330.7 582.0V583.5M359.9 772.5V795.0M368.2 789.5V798.7M372.4 759.5V789.5M376.5 745.0V759.5M389.0 846.0V852.0M401.5 871.5V873.0M414.0 894.5V904.5M422.3 903.0V904.5M434.8 925.0V958.7M443.2 938.7V946.0M459.8 1015.5V1042.5M468.1 1022.5V1043.7M472.3 1007.5V1022.5M484.8 1028.7V1031.0M489.0 1026.0V1028.7M497.3 964.5V1027.0M509.8 957.5V982.0M518.1 948.0V959.0M530.6 982.5V1001.0M543.1 976.0V1005.0M547.3 973.0V976.0M588.9 1121.0V1132.5M597.2 1092.5V1132.5M601.4 1091.0V1092.5M605.6 1087.5V1091.0M613.9 1079.5V1107.0M618.1 1070.5V1079.5M647.2 1107.5V1111.0M651.4 1098.7V1107.5M655.5 1098.0V1099.5M659.7 1056.0V1098.0M663.9 1049.0V1056.0M701.3 1148.7V1163.7M709.7 1163.0V1164.5M722.2 1170.0V1175.0M726.3 1161.0V1170.0M730.5 1152.5V1161.0M743.0 1170.5V1172.0M747.1 1163.7V1170.5M751.3 1161.0V1163.7M763.8 1158.0V1172.5M768.0 1146.0V1158.0M772.1 1142.5V1146.0M776.3 1132.5V1142.5M780.5 1111.0V1132.5M788.8 1117.0V1122.5M793.0 1085.5V1117.0M801.3 1053.7V1092.5M809.6 1048.0V1057.5M813.8 1034.5V1048.0M834.6 1095.5V1118.7M842.9 1106.0V1112.5M859.6 1124.5V1126.0M863.7 1069.5V1124.5M872.1 1059.5V1080.0M876.2 1018.0V1059.5M880.4 1004.5V1018.0M892.9 1015.5V1044.5M901.2 1017.0V1024.5M917.9 1032.5V1050.0M926.2 1059.5V1063.7M930.4 1054.5V1059.5M934.5 1048.0V1054.5M938.7 1041.0V1048.0M947.0 1053.0V1055.0M951.2 1050.0V1053.0M967.9 1063.7V1079.5M972.0 960.0V1063.7M976.2 943.0V960.0M984.5 911.7V952.5M988.7 907.3V911.7M992.8 845.3V907.3M1013.7 908.0V921.0M1017.8 907.0V908.5M1022.0 888.5V907.0M1034.5 878.3V936.4M1038.6 875.8V878.3M1042.8 820.2V875.8M1047.0 810.3V820.2M1059.5 790.5V871.7M1063.6 789.0V790.5M1067.8 727.0V789.0M1072.0 685.7V727.0M1080.3 689.5V700.0M1088.6 637.5V713.0M1092.8 593.7V637.5M1096.9 529.5V593.7M1101.1 528.7V530.2M1117.8 530.0V641.0M1130.3 464.0V568.0M1134.4 374.0V464.0M1155.2 428.7V602.0M1163.6 544.5V559.5M1167.7 507.5V544.5M1188.6 607.0V640.0M1196.9 603.7V611.0M1205.2 599.0V637.5M1209.4 543.0V599.0M1213.5 403.0V543.0M1217.7 388.0V403.0M1221.9 365.7V388.0M1242.7 634.5V642.0M1259.4 696.0V722.0M1263.5 610.0V696.0M1271.8 593.0V633.0M1284.3 660.0V683.7M1288.5 617.5V660.0M1305.2 676.6V684.0M1321.8 810.0V829.0M1326.0 750.0V810.0M1330.1 746.0V750.0M1342.6 813.0V889.0M1359.3 954.0V970.0M1363.5 931.8V954.0M1371.8 965.7V967.2M1380.1 987.5V993.0M1388.4 960.7V988.0M1400.9 983.7V988.0M1413.4 1011.0V1028.7M1417.6 978.0V1011.0M1434.3 1020.0V1046.0M1438.4 1004.5V1020.0M1455.1 968.0V1025.5M1463.4 1038.7V1053.0M1471.7 1053.0V1069.5M1475.9 1004.5V1053.0M1480.1 993.7V1004.5M1505.0 1065.0V1073.0M1509.2 1048.0V1065.0M1517.5 1044.5V1057.5M1525.9 1031.0V1050.0M1538.4 1061.0V1063.7M1542.5 1049.5V1061.0M1546.7 1018.7V1049.5M1550.9 1007.5V1018.7M1559.2 1003.0V1018.7M1571.7 1051.0V1053.7M1580.0 1050.0V1068.7M1592.5 1088.0V1091.0M1596.7 1087.0V1088.5M1605.0 1108.7V1120.5M1613.3 1090.0V1121.0M1621.6 1091.0V1100.5M1625.8 1070.5V1091.0M1646.6 1120.5V1125.5M1650.8 1116.0V1120.5M1655.0 1113.7V1116.0M1659.1 1112.0V1113.7M1663.3 1111.0V1112.5M1667.5 1085.5V1111.0M1671.6 1072.0V1085.5M1675.8 1058.7V1072.0M1679.9 1055.0V1058.7M1684.1 1052.5V1055.0M1700.8 1087.0V1094.5M1704.9 1085.5V1087.0M1725.8 1126.0V1131.0M1734.1 1071.0V1128.0M1738.2 1051.0V1071.0M1742.4 1012.0V1051.0M1754.9 984.5V1036.0M1767.4 1042.0V1051.0M1775.7 1033.7V1064.5M1784.1 1042.5V1050.0M1788.2 1028.7V1042.5M1792.4 1013.0V1028.7M1804.9 1042.0V1050.0M1809.0 1035.5V1042.0M1813.2 1027.5V1035.5M1829.9 1099.5V1102.5M1834.0 1092.5V1099.5M1838.2 1085.0V1092.5M1842.4 1073.0V1085.0M1854.8 1104.5V1115.0M1859.0 1085.5V1104.5M1867.3 1068.7V1088.7M1871.5 1048.0V1068.7M1888.2 1101.0V1108.0M1892.3 1099.5V1101.0M1904.8 1113.7V1116.0M1925.6 1126.0V1150.0M1929.8 1125.0V1126.5M1942.3 1137.5V1141.0M1946.5 1128.7V1137.5M1950.6 1119.5V1128.7M1963.1 1120.5V1138.7M1967.3 1119.5V1121.0M1975.6 1136.0V1139.5M1979.8 1131.0V1136.0M1988.1 1128.7V1135.5M1992.3 1111.0V1128.7M1996.4 1088.7V1111.0M2000.6 1073.0V1088.7M2008.9 1070.0V1085.5M2017.3 1055.0V1075.5M2021.4 1048.0V1055.0M2025.6 1042.5V1048.0M2029.7 1033.0V1042.5M2033.9 999.5V1033.0M2038.1 956.0V999.5M2042.2 936.0V956.0M2054.7 971.0V979.5M2058.9 871.0V971.0M2063.1 859.5V871.0M2067.2 819.5V859.5M2079.7 867.0V895.0M2088.0 888.8V896.2M2096.4 878.3V933.3M2100.5 870.2V878.3M2108.9 872.0V888.8M2113.0 844.3V872.0M2117.2 838.0V844.3M2121.4 768.7V838.0M2125.5 722.0V768.7M2133.9 712.5V723.0M2146.3 781.0V783.7M2150.5 770.5V781.0M2167.2 828.7V844.5M2175.5 755.5V851.0M2192.2 851.0V856.0M2200.5 813.7V865.5M2208.8 831.0V841.0M2221.3 805.5V850.5M2225.5 772.5V805.5M2233.8 772.0V836.0M2238.0 767.5V772.0M2242.1 766.5V768.0M2246.3 733.7V766.5M2250.5 714.5V733.7M2258.8 734.5V736.0M2283.8 788.0V797.5M2308.8 870.5V872.0M2321.3 875.0V897.5M2329.6 873.0V889.5M2342.1 887.5V904.0M2346.2 848.0V887.5M2362.9 870.0V885.0M2371.2 890.0V915.7" stroke="#2179a9" stroke-width="4.2" fill="none"/>
<path d="M72.5 464.0V588.0M93.4 341.5V382.0M101.7 213.0V282.7M105.8 282.7V353.8M110.0 353.8V530.5M118.3 405.0V522.5M122.5 522.5V582.0M126.7 582.0V623.7M130.8 623.7V633.7M143.3 503.0V527.0M147.5 527.0V528.5M151.7 527.5V613.7M155.8 613.7V662.5M160.0 662.5V665.0M164.1 665.0V701.0M180.8 623.0V708.7M185.0 708.7V720.0M189.1 720.0V721.5M197.5 680.0V697.5M201.6 697.5V709.5M214.1 628.0V663.0M222.4 648.7V683.7M226.6 683.7V688.7M230.8 688.7V696.0M234.9 696.0V744.5M239.1 744.5V800.0M247.4 770.5V818.7M259.9 754.5V786.0M272.4 653.7V678.7M280.7 668.0V680.5M293.2 626.0V627.5M297.4 627.0V647.5M301.6 647.5V692.5M326.6 547.0V582.5M334.9 582.0V603.7M339.0 603.7V653.7M343.2 653.7V695.5M347.4 695.5V697.0M351.5 696.0V741.0M355.7 741.0V795.0M364.0 772.5V798.7M380.7 745.0V814.5M384.9 814.5V852.0M393.2 846.0V862.5M397.3 862.5V872.0M405.7 871.5V896.0M409.8 896.0V904.5M418.2 894.5V903.7M426.5 903.0V940.0M430.7 940.0V958.7M439.0 925.0V946.0M447.3 938.7V981.0M451.5 981.0V1022.5M455.6 1022.5V1042.5M464.0 1015.5V1043.7M476.5 1007.5V1015.0M480.6 1015.0V1031.0M493.1 1026.0V1027.5M501.5 964.5V980.0M505.6 980.0V982.0M513.9 957.5V959.0M522.3 948.0V955.0M526.4 955.0V1001.0M534.8 982.5V985.0M538.9 985.0V1005.0M551.4 973.0V988.7M555.6 988.7V996.0M559.8 996.0V1017.5M563.9 1017.5V1027.5M568.1 1027.5V1029.0M572.2 1028.0V1063.7M576.4 1063.7V1092.5M580.6 1092.5V1110.0M584.7 1110.0V1132.5M593.1 1121.0V1132.5M609.7 1087.5V1107.0M622.2 1070.5V1083.7M626.4 1083.7V1100.0M630.5 1100.0V1102.5M634.7 1102.5V1104.0M638.9 1103.7V1108.7M643.0 1108.7V1111.0M668.0 1049.0V1065.0M672.2 1065.0V1092.5M676.4 1092.5V1123.7M680.5 1123.7V1137.5M684.7 1137.5V1147.5M688.8 1147.5V1149.0M693.0 1148.2V1150.0M697.2 1150.0V1163.7M705.5 1148.7V1163.7M713.8 1163.0V1173.7M718.0 1173.7V1175.2M734.7 1152.5V1157.5M738.8 1157.5V1171.0M755.5 1161.0V1170.0M759.6 1170.0V1172.5M784.6 1111.0V1122.5M797.1 1085.5V1092.5M805.4 1053.7V1057.5M817.9 1034.5V1051.0M822.1 1051.0V1062.5M826.3 1062.5V1087.5M830.4 1087.5V1118.7M838.8 1095.5V1112.5M847.1 1106.0V1113.7M851.3 1113.7V1115.2M855.4 1115.0V1126.0M867.9 1069.5V1080.0M884.6 1004.5V1027.0M888.7 1027.0V1044.5M897.1 1015.5V1024.5M905.4 1017.0V1033.7M909.6 1033.7V1036.0M913.7 1036.0V1050.0M922.0 1032.5V1063.7M942.9 1041.0V1055.0M955.4 1050.0V1054.5M959.5 1054.5V1073.7M963.7 1073.7V1079.5M980.3 943.0V952.5M997.0 845.3V878.3M1001.2 878.3V879.8M1005.3 878.6V920.3M1009.5 920.3V921.8M1026.2 888.5V922.8M1030.3 922.8V936.4M1051.1 810.3V848.2M1055.3 848.2V871.7M1076.1 685.7V700.0M1084.5 689.5V713.0M1105.3 528.7V544.5M1109.4 544.5V562.0M1113.6 562.0V641.0M1121.9 530.0V538.7M1126.1 538.7V568.0M1138.6 374.0V426.0M1142.8 426.0V481.0M1146.9 481.0V507.0M1151.1 507.0V602.0M1159.4 428.7V559.5M1171.9 507.5V525.5M1176.1 525.5V544.5M1180.2 544.5V623.7M1184.4 623.7V640.0M1192.7 607.0V611.0M1201.1 603.7V637.5M1226.0 365.7V435.0M1230.2 435.0V538.7M1234.4 538.7V585.0M1238.5 585.0V642.0M1246.9 634.5V636.0M1251.0 636.0V660.0M1255.2 660.0V722.0M1267.7 610.0V633.0M1276.0 593.0V656.0M1280.2 656.0V683.7M1292.7 617.5V677.5M1296.8 677.5V682.5M1301.0 682.5V684.0M1309.3 676.6V737.7M1313.5 737.7V756.0M1317.7 756.0V829.0M1334.3 746.0V814.0M1338.5 814.0V889.0M1346.8 813.0V866.0M1351.0 866.0V912.0M1355.1 912.0V970.0M1367.6 931.8V966.4M1376.0 965.7V993.0M1384.3 987.5V989.0M1392.6 960.7V982.5M1396.8 982.5V988.0M1405.1 983.7V1008.7M1409.3 1008.7V1028.7M1421.8 978.0V989.5M1425.9 989.5V993.7M1430.1 993.7V1046.0M1442.6 1004.5V1013.7M1446.7 1013.7V1015.2M1450.9 1015.0V1025.5M1459.2 968.0V1053.0M1467.6 1038.7V1069.5M1484.2 993.7V1011.0M1488.4 1011.0V1016.0M1492.6 1016.0V1033.0M1496.7 1033.0V1049.5M1500.9 1049.5V1073.0M1513.4 1048.0V1057.5M1521.7 1044.5V1050.0M1530.0 1031.0V1037.5M1534.2 1037.5V1063.7M1555.0 1007.5V1018.7M1563.3 1003.0V1036.0M1567.5 1036.0V1053.7M1575.8 1051.0V1068.7M1584.2 1050.0V1078.7M1588.3 1078.7V1091.0M1600.8 1087.0V1120.5M1609.2 1108.7V1121.0M1617.5 1090.0V1100.5M1630.0 1070.5V1095.5M1634.1 1095.5V1106.0M1638.3 1106.0V1122.0M1642.5 1122.0V1125.5M1688.3 1052.5V1068.7M1692.4 1068.7V1076.0M1696.6 1076.0V1094.5M1709.1 1085.5V1097.5M1713.3 1097.5V1108.7M1717.4 1108.7V1112.5M1721.6 1112.5V1131.0M1729.9 1126.0V1128.0M1746.6 1012.0V1020.0M1750.7 1020.0V1036.0M1759.1 984.5V1020.0M1763.2 1020.0V1051.0M1771.6 1042.0V1064.5M1779.9 1033.7V1050.0M1796.5 1013.0V1048.7M1800.7 1048.7V1050.2M1817.4 1027.5V1032.5M1821.5 1032.5V1046.0M1825.7 1046.0V1102.5M1846.5 1073.0V1092.0M1850.7 1092.0V1115.0M1863.2 1085.5V1088.7M1875.7 1048.0V1067.0M1879.8 1067.0V1093.7M1884.0 1093.7V1108.0M1896.5 1099.5V1106.0M1900.7 1106.0V1116.0M1909.0 1113.7V1115.2M1913.1 1115.0V1130.0M1917.3 1130.0V1141.0M1921.5 1141.0V1150.0M1934.0 1125.0V1135.0M1938.1 1135.0V1141.0M1954.8 1119.5V1128.7M1959.0 1128.7V1138.7M1971.4 1119.5V1139.5M1983.9 1131.0V1135.5M2004.8 1073.0V1085.5M2013.1 1070.0V1075.5M2046.4 936.0V942.5M2050.6 942.5V979.5M2071.4 819.5V847.5M2075.6 847.5V895.0M2083.9 867.0V896.2M2092.2 888.8V933.3M2104.7 870.2V888.8M2129.7 722.0V723.5M2138.0 712.5V737.5M2142.2 737.5V783.7M2154.7 770.5V787.5M2158.8 787.5V813.7M2163.0 813.7V844.5M2171.3 828.7V851.0M2179.7 755.5V765.0M2183.8 765.0V800.5M2188.0 800.5V856.0M2196.3 851.0V865.5M2204.7 813.7V841.0M2213.0 831.0V841.0M2217.1 841.0V850.5M2229.6 772.5V836.0M2254.6 714.5V735.0M2263.0 734.5V736.0M2267.1 736.0V748.7M2271.3 748.7V763.7M2275.4 763.7V794.5M2279.6 794.5V797.5M2287.9 788.0V797.0M2292.1 797.0V816.0M2296.3 816.0V818.0M2300.4 818.0V840.5M2304.6 840.5V872.0M2312.9 870.5V877.5M2317.1 877.5V897.5M2325.4 875.0V889.5M2333.7 873.0V899.5M2337.9 899.5V904.0M2350.4 848.0V859.5M2354.6 859.5V881.0M2358.7 881.0V885.0M2367.1 870.0V915.7M2375.4 890.0V913.6M2379.6 913.6V998.0M2383.7 998.0V1048.6M2387.9 1048.8V1053.9" stroke="#df3d4d" stroke-width="4.2" fill="none"/>

<line x1="2112" y1="678.3" x2="2412" y2="678.3" stroke="#9a35ad" stroke-width="1.4"/>
<line x1="2142" y1="868" x2="2412" y2="868" stroke="#d9505f" stroke-width="1.4"/>
<line x1="1675" y1="1162" x2="2412" y2="1162" stroke="#35b5c5" stroke-width="1.5"/>
<line x1="2312" y1="1219" x2="2412" y2="1219" stroke="#d9505f" stroke-width="1.4"/>
<!-- left icon -->
<path d="M15 1315.6 H19.3 V1319.8 H24.6 V1313.2 C25.5 1312.2 30.3 1310.5 30.3 1304.5 V1290.1 A5.5 5.65 0 0 0 19.3 1290.1 V1290.9 H25.4 V1304.1 C22.3 1303.1 19.3 1300.3 15 1300.3" fill="none" stroke="#131722" stroke-width="2.3" stroke-linejoin="miter"/>
<!-- TV logo -->
<g fill="#131722">
<path d="M17.1 1405.3 H34 V1426.8 H25.7 V1413.8 H17.1 Z"/>
<circle cx="41.5" cy="1409.9" r="4.4"/>
<path d="M48.7 1405.3 H60 L52.6 1426.8 H41.3 Z"/>
</g>
<text x="70" y="1426.8" font-family="Liberation Sans, sans-serif" font-weight="bold" font-size="30.5" fill="#131722" stroke="#131722" stroke-width="0.45" textLength="173.5" lengthAdjust="spacingAndGlyphs">TradingView</text>
</svg>
<div class="tag" style="top:661.8px;background:#9c27b0">0.85382</div>
<div class="tag" style="top:851.5px;background:#f23645">0.60604</div>
<div class="tag" style="top:1145.5px;background:#00bcd4;color:#131722">0.22214</div>
<div class="tag" style="top:1202.7px;background:#f23645">0.14750</div>
</body></html>
